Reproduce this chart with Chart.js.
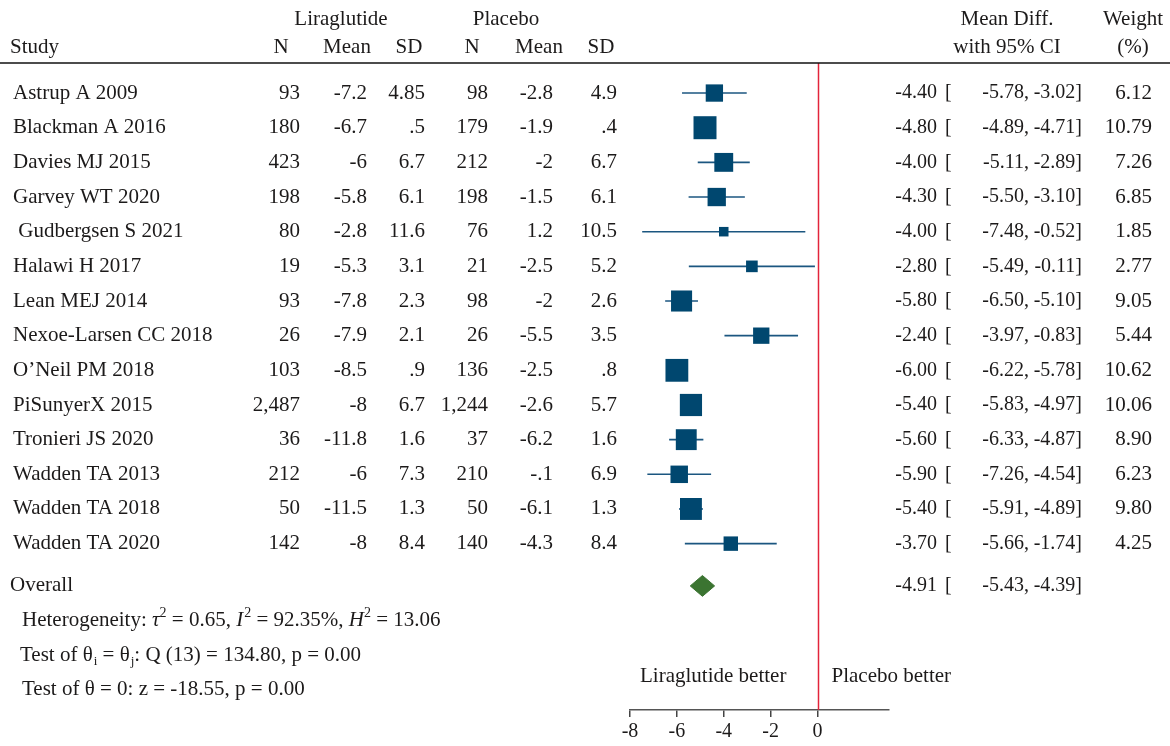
<!DOCTYPE html>
<html><head><meta charset="utf-8">
<script src="https://cdn.jsdelivr.net/npm/chart.js@4.4.1/dist/chart.umd.min.js"></script>
<style>html,body{margin:0;padding:0;background:#fff;}canvas{display:block;}</style>
</head><body>
<canvas id="c" width="1170" height="746"></canvas>
<script>
const studies = ["Astrup A 2009","Blackman A 2016","Davies MJ 2015","Garvey WT 2020"," Gudbergsen S 2021","Halawi H 2017","Lean MEJ 2014","Nexoe-Larsen CC 2018","O\u2019Neil PM 2018","PiSunyerX 2015","Tronieri JS 2020","Wadden TA 2013","Wadden TA 2018","Wadden TA 2020"];
const liraN = [93,180,423,198,80,19,93,26,103,2487,36,212,50,142];
const liraMean = [-7.2,-6.7,-6,-5.8,-2.8,-5.3,-7.8,-7.9,-8.5,-8,-11.8,-6,-11.5,-8];
const liraSD = [4.85,0.5,6.7,6.1,11.6,3.1,2.3,2.1,0.9,6.7,1.6,7.3,1.3,8.4];
const placN = [98,179,212,198,76,21,98,26,136,1244,37,210,50,140];
const placMean = [-2.8,-1.9,-2,-1.5,1.2,-2.5,-2,-5.5,-2.5,-2.6,-6.2,-0.1,-6.1,-4.3];
const placSD = [4.9,0.4,6.7,6.1,10.5,5.2,2.6,3.5,0.8,5.7,1.6,6.9,1.3,8.4];
const meanDiff = [-4.40,-4.80,-4.00,-4.30,-4.00,-2.80,-5.80,-2.40,-6.00,-5.40,-5.60,-5.90,-5.40,-3.70];
const ciLow = [-5.78,-4.89,-5.11,-5.50,-7.48,-5.49,-6.50,-3.97,-6.22,-5.83,-6.33,-7.26,-5.91,-5.66];
const ciHigh = [-3.02,-4.71,-2.89,-3.10,-0.52,-0.11,-5.10,-0.83,-5.78,-4.97,-4.87,-4.54,-4.89,-1.74];
const weights = [6.12,10.79,7.26,6.85,1.85,2.77,9.05,5.44,10.62,10.06,8.90,6.23,9.80,4.25];
const overallMD = -4.91, overallLow = -5.43, overallHigh = -4.39;
const xTicks = [-8,-6,-4,-2,0];

const FONT = '"Liberation Serif", "DejaVu Serif", serif';
const TXT = '#1c1a1a';
const SQ = '#00476f';
const CI = '#1b5680';
const overallRow = studies.length + 0.22;

function fmtNum(v){ return String(v).replace(/^(-?)0\./,'$1.'); }
function fmtN(v){ return v.toLocaleString('en-US'); }

const datasets = [];
studies.forEach((s,i)=>{
  datasets.push({type:'scatter', showLine:true, data:[{x:ciLow[i],y:i},{x:ciHigh[i],y:i}],
    borderColor:CI, borderWidth:1.6, pointRadius:0, order:3});
});
datasets.push({type:'scatter', data:meanDiff.map((v,i)=>({x:v,y:i})), pointStyle:'rect',
  pointRadius:weights.map(w=>7*Math.sqrt(w)/Math.SQRT2), backgroundColor:SQ, borderWidth:0, order:1});
datasets.push({type:'scatter', showLine:true, fill:'shape', backgroundColor:'#3b7431', borderColor:'#3b7431', borderWidth:1,
  pointRadius:0, order:1,
  data:[{x:overallLow,y:overallRow},{x:overallMD,y:overallRow-0.3},{x:overallHigh,y:overallRow},{x:overallMD,y:overallRow+0.3},{x:overallLow,y:overallRow}]});

const tablePlugin = {
  id:'table',
  beforeDraw(chart){
    const ctx = chart.ctx; ctx.save(); ctx.fillStyle='#fff'; ctx.fillRect(0,0,chart.width,chart.height); ctx.restore();
  },
  beforeDatasetsDraw(chart){
    const ctx = chart.ctx, xs = chart.scales.x, a = chart.chartArea;
    ctx.save();
    ctx.strokeStyle = '#e3243b'; ctx.lineWidth = 1.5;
    const x0 = Math.round(xs.getPixelForValue(0))+0.5;
    ctx.beginPath(); ctx.moveTo(x0, a.top); ctx.lineTo(x0, a.bottom); ctx.stroke();
    ctx.strokeStyle = '#111'; ctx.lineWidth = 1.6;
    ctx.beginPath(); ctx.moveTo(0, a.top); ctx.lineTo(chart.width, a.top); ctx.stroke();
    ctx.restore();
  },
  afterDraw(chart){
    const ctx = chart.ctx, ys = chart.scales.y, a = chart.chartArea;
    ctx.save();
    ctx.fillStyle = TXT; ctx.textBaseline = 'middle';
    const F = 21;
    const font = (sz, it) => (it?'italic ':'') + sz + 'px ' + FONT;
    function t(s, x, y, align, sz, it){ ctx.font = font(sz||F, it); ctx.textAlign = align||'left'; ctx.fillText(s, x, y); return ctx.measureText(s).width; }
    function ciText(md, lo, hi, y){
      t(md.toFixed(2), 937, y, 'right', 20);
      t('[', 945, y, 'left', 20);
      t(lo.toFixed(2), 1024, y, 'right', 20); t(',', 1024, y, 'left', 20);
      t(hi.toFixed(2)+']', 1082, y, 'right', 20);
    }
    // headers
    const h1 = 19, h2 = 47;
    t('Liraglutide', 341, h1, 'center'); t('Placebo', 506, h1, 'center');
    t('Mean Diff.', 1007, h1, 'center'); t('Weight', 1133, h1, 'center');
    t('Study', 10, h2); t('N', 281, h2, 'center'); t('Mean', 347, h2, 'center'); t('SD', 409, h2, 'center');
    t('N', 472, h2, 'center'); t('Mean', 539, h2, 'center'); t('SD', 601, h2, 'center');
    t('with 95% CI', 1007, h2, 'center'); t('(%)', 1133, h2, 'center');
    studies.forEach((s,i)=>{
      const y = ys.getPixelForValue(i);
      t(s, 13, y);
      t(fmtN(liraN[i]), 300, y, 'right');
      t(fmtNum(liraMean[i]), 367, y, 'right');
      t(fmtNum(liraSD[i]), 425, y, 'right');
      t(fmtN(placN[i]), 488, y, 'right');
      t(fmtNum(placMean[i]), 553, y, 'right');
      t(fmtNum(placSD[i]), 617, y, 'right');
      ciText(meanDiff[i], ciLow[i], ciHigh[i], y);
      t(weights[i].toFixed(2), 1152, y, 'right');
    });
    const yo = ys.getPixelForValue(overallRow);
    t('Overall', 10, yo);
    ciText(overallMD, overallLow, overallHigh, yo);
    // stats
    const step = ys.getPixelForValue(1)-ys.getPixelForValue(0);
    let y = yo + step, x = 22;
    x += t('Heterogeneity: ', x, y); x += t('\u03C4', x, y, 'left', F, true); x += t('2', x, y-7, 'left', 14);
    x += t(' = 0.65, ', x, y); x += t('I', x, y, 'left', F, true); x += t('2', x+1, y-7, 'left', 14)+1;
    x += t(' = 92.35%, ', x, y); x += t('H', x, y, 'left', F, true); x += t('2', x, y-7, 'left', 14);
    t(' = 13.06', x, y);
    y += step; x = 20;
    x += t('Test of \u03B8', x, y); x += t('i', x+1, y+6, 'left', 13)+1; x += t(' = \u03B8', x, y); x += t('j', x+1, y+6, 'left', 13)+1;
    t(': Q (13) = 134.80, p = 0.00', x, y);
    y += step;
    t('Test of \u03B8 = 0: z = -18.55, p = 0.00', 22, y);
    const xs = chart.scales.x;
    t('Liraglutide better', xs.getPixelForValue(-4.45), a.bottom-34, 'center');
    t('Placebo better', xs.getPixelForValue(0)+14, a.bottom-34, 'left');
    ctx.restore();
  }
};

new Chart(document.getElementById('c'), {
  type:'scatter',
  data:{datasets},
  options:{
    responsive:false, devicePixelRatio:1, animation:false,
    layout:{padding:{left:630, right:281, top:63, bottom:-1}},
    plugins:{legend:{display:false}, tooltip:{enabled:false}},
    scales:{
      x:{type:'linear', min:-8, max:3.05, position:'bottom',
        afterBuildTicks:(s)=>{ s.ticks = xTicks.map(v=>({value:v})); },
        grid:{drawOnChartArea:false, drawTicks:true, tickLength:7, color:'#444', lineWidth:1.5},
        border:{display:true, color:'#555', width:1.5},
        ticks:{font:{family:FONT, size:20}, color:TXT, padding:3}},
      y:{type:'linear', reverse:true, min:-0.867, max:17.8, display:false}
    }
  },
  plugins:[tablePlugin]
});
</script>
</body></html>
